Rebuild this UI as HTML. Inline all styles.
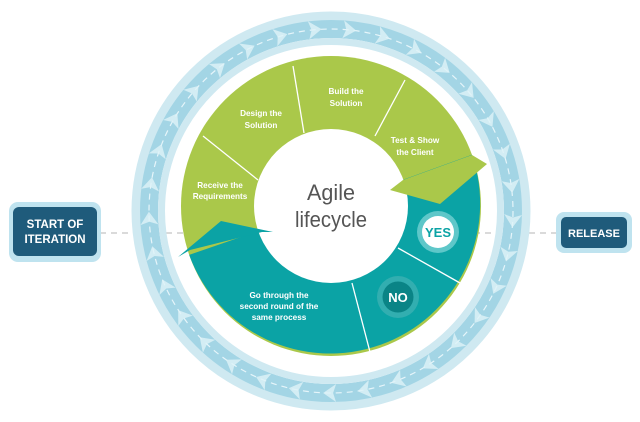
<!DOCTYPE html>
<html><head><meta charset="utf-8"><style>
html,body{margin:0;padding:0;background:#fff;width:640px;height:422px;overflow:hidden}
svg{display:block}
.l{font-family:"Liberation Sans",sans-serif;font-weight:bold;font-size:8.2px;fill:#fff;text-anchor:middle}
</style></head><body>
<svg id="s" width="640" height="422" viewBox="0 0 640 422" xmlns="http://www.w3.org/2000/svg">
<line x1="100" y1="233" x2="560" y2="233" stroke="#b5b5b5" stroke-width="1" stroke-dasharray="6,5"/>
<circle cx="331" cy="211" r="195" fill="none" stroke="#cfe9f1" stroke-width="9"/>
<circle cx="331" cy="211" r="182" fill="none" stroke="#a3d5e5" stroke-width="18"/>
<circle cx="331" cy="211" r="169.5" fill="none" stroke="#cfe9f1" stroke-width="7"/>
<circle cx="331" cy="211" r="182" fill="none" stroke="#e6f5fa" stroke-width="1.2" stroke-dasharray="6,5"/>
<g id="arrows"></g>
<circle cx="331" cy="206" r="150" fill="#aac84a"/>
<path id="teal" fill="#0ba3a5"/>
<circle cx="331" cy="206" r="77" fill="#fff"/>
<polygon points="178,257 221,221 273,232 262,232 190,250" fill="#0ba3a5"/>
<polygon points="390,190 440,204 487,164 472,155 403,180" fill="#aac84a"/>
<g stroke="#fff" stroke-width="1.3">
<line x1="203" y1="136" x2="258" y2="180"/>
<line x1="293" y1="66" x2="304" y2="133"/>
<line x1="405" y1="80" x2="375" y2="136"/>
<line x1="398" y1="248" x2="460" y2="283"/>
<line x1="352" y1="283" x2="370" y2="352"/>
</g>
<circle cx="438" cy="232" r="21" fill="#5ec7c9"/>
<circle cx="438" cy="232" r="16" fill="#fff"/>
<text x="438" y="237" text-anchor="middle" font-family="Liberation Sans,sans-serif" font-weight="bold" font-size="13" fill="#0ba3a5">YES</text>
<circle cx="398" cy="297" r="21" fill="#32aeb0"/>
<circle cx="398" cy="297" r="15.5" fill="#0a8486"/>
<text x="398" y="302" text-anchor="middle" font-family="Liberation Sans,sans-serif" font-weight="bold" font-size="13" fill="#fff">NO</text>
<text x="331" y="200" text-anchor="middle" font-family="Liberation Sans,sans-serif" font-size="22" fill="#555" textLength="48" lengthAdjust="spacingAndGlyphs">Agile</text>
<text x="331" y="227" text-anchor="middle" font-family="Liberation Sans,sans-serif" font-size="22" fill="#555" textLength="72" lengthAdjust="spacingAndGlyphs">lifecycle</text>
<text class="l" x="261" y="116">Design the</text><text class="l" x="261" y="128">Solution</text>
<text class="l" x="346" y="94">Build the</text><text class="l" x="346" y="106">Solution</text>
<text class="l" x="415" y="143">Test &amp; Show</text><text class="l" x="415" y="155">the Client</text>
<text class="l" x="220" y="188">Receive the</text><text class="l" x="220" y="199">Requirements</text>
<text class="l" x="279" y="298">Go through the</text><text class="l" x="279" y="309">second round of the</text><text class="l" x="279" y="320">same process</text>
<rect x="9" y="202" width="92" height="60" rx="9" fill="#bfe3ef"/>
<rect x="13" y="207" width="84" height="49" rx="6" fill="#1f5b7b"/>
<text x="55" y="228" text-anchor="middle" font-family="Liberation Sans,sans-serif" font-weight="bold" font-size="11.5" fill="#fff">START OF</text>
<text x="55" y="243" text-anchor="middle" font-family="Liberation Sans,sans-serif" font-weight="bold" font-size="11.5" fill="#fff">ITERATION</text>
<rect x="556" y="212" width="76" height="41" rx="8" fill="#bfe3ef"/>
<rect x="561" y="217" width="66" height="31" rx="5" fill="#1f5b7b"/>
<text x="594" y="237" text-anchor="middle" font-family="Liberation Sans,sans-serif" font-weight="bold" font-size="11" fill="#fff">RELEASE</text>
</svg>
<script>
(function(){
var cx=331,cy=206,R=150,r=77;
function p(a,rad){a=a*Math.PI/180;return [cx+rad*Math.cos(a),cy+rad*Math.sin(a)];}
var a1=-20,a2=161;
var A=p(a1,R),B=p(a2,R),C=p(a2,r),D=p(a1,r);
document.getElementById('teal').setAttribute('d','M'+A+' A'+R+' '+R+' 0 0 1 '+B+' L'+C+' A'+r+' '+r+' 0 0 0 '+D+' Z');
var g=document.getElementById('arrows'),s='';
var ccx=331,ccy=211;
for(var i=0;i<33;i++){
 var a=i*360/33+3, t=a*Math.PI/180;
 var x=ccx+182*Math.cos(t),y=ccy+182*Math.sin(t);
 s+='<g transform="translate('+x.toFixed(1)+','+y.toFixed(1)+') rotate('+(a+90).toFixed(1)+')"><polygon points="7,0 -6,-9 -3,0 -6,9" fill="#dff2f8" opacity="0.8"/></g>';
}
g.innerHTML=s;
})();
</script>
</body></html>
